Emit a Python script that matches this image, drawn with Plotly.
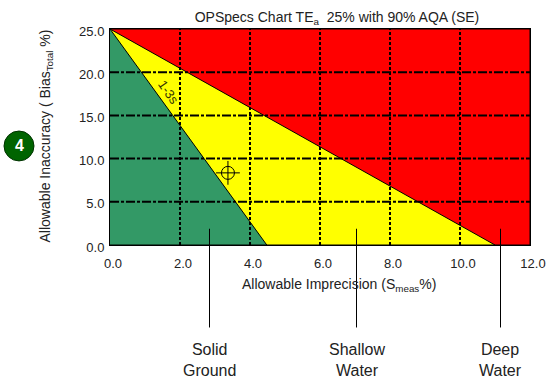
import plotly.graph_objects as go

FONT = "Liberation Sans, Arial, sans-serif"
TEXT = "#222222"

x_ticks = [0, 2, 4, 6, 8, 10, 12]
y_ticks = [0, 5, 10, 15, 20, 25]
tick_fmt = ".1f"

red_x = [0, 12, 12, 0]
red_y = [25, 25, 0, 0]
yellow_x = [0, 11.0, 0]
yellow_y = [25, 0, 0]
green_x = [0, 4.48, 0]
green_y = [25, 0, 0]
point_x = [3.37]
point_y = [8.35]

zone_labels = ["Solid<br>Ground", "Shallow<br>Water", "Deep<br>Water"]
zone_x = [2.843, 7.043, 11.157]

fig = go.Figure()
for xs, ys, col in [(red_x, red_y, "#ff0000"), (yellow_x, yellow_y, "#ffff00"), (green_x, green_y, "#339966")]:
    fig.add_trace(go.Scatter(x=xs, y=ys, mode="lines", fill="toself", fillcolor=col,
                             line=dict(color="black", width=1), showlegend=False, hoverinfo="skip"))
fig.add_trace(go.Scatter(x=point_x, y=point_y, mode="markers", showlegend=False,
                         marker=dict(symbol="circle-open", size=13, color="black",
                                     line=dict(color="black", width=1))))
fig.add_trace(go.Scatter(x=point_x, y=point_y, mode="markers", showlegend=False,
                         marker=dict(symbol="cross-thin-open", size=17, color="black",
                                     line=dict(color="black", width=1))))

grid = dict(showgrid=True, gridcolor="black", gridwidth=2, layer="below traces", zeroline=False,
            showline=True, linecolor="black", linewidth=1, mirror=True, ticks="", automargin=False,
            tickformat=tick_fmt, tickfont=dict(family=FONT, size=13, color=TEXT))

fig.update_layout(
    width=555, height=386, margin=dict(l=110, r=25, t=29, b=141),
    paper_bgcolor="white", plot_bgcolor="white", showlegend=False,
    font=dict(family=FONT, size=13, color=TEXT),
    title=dict(text="OPSpecs Chart TE<sub>a</sub>  25% with 90% AQA (SE)", x=337/555, xanchor="center",
               y=1-17/386, yanchor="middle", font=dict(family=FONT, size=14, color=TEXT)),
    xaxis=dict(range=[0, 12], tickvals=x_ticks, griddash="3px,2px", **grid),
    yaxis=dict(range=[0, 25], tickvals=y_ticks, griddash="9px,2px,3px,2px", **grid),
)
fig.update_xaxes(ticklabelshift=3, ticklabelstandoff=6)
fig.update_yaxes(ticklabelshift=2, ticklabelstandoff=2)

# axis titles
fig.add_annotation(xref="paper", yref="paper", x=(339-110)/420, y=(245.3-285)/216.6, xanchor="center", yanchor="middle",
                   text="Allowable Imprecision (S<sub>meas</sub>%)", showarrow=False,
                   font=dict(family=FONT, size=14, color=TEXT))
fig.add_annotation(xref="paper", yref="paper", x=(46-110)/420, y=(245.3-136.5)/216.6, xanchor="center", yanchor="middle",
                   text="Allowable Inaccuracy ( Bias<sub>Total</sub> %)", showarrow=False, textangle=-90,
                   font=dict(family=FONT, size=14, color=TEXT))

# grid lines over the coloured zones
for v in x_ticks[1:-1]:
    fig.add_shape(type="line", xref="x", yref="paper", x0=v, x1=v, y0=0, y1=1,
                  line=dict(color="black", width=2, dash="3px,2px"))
for v in y_ticks[1:-1]:
    fig.add_shape(type="line", xref="paper", yref="y", x0=0, x1=1, y0=v, y1=v,
                  line=dict(color="black", width=2, dash="9px,2px,3px,2px"))

for lab, xv in zip(zone_labels, zone_x):
    fig.add_shape(type="line", xref="x", yref="paper", x0=xv, x1=xv, y0=(245.3-328)/216.6, y1=(245.3-229)/216.6,
                  line=dict(color="black", width=1), layer="above")
    fig.add_annotation(x=xv, xref="x", yref="paper", y=(245.3-361)/216.6, yanchor="middle", text=lab, showarrow=False,
                       font=dict(family=FONT, size=16, color=TEXT), align="center")

fig.add_annotation(x=1.67, y=17.6, text="1-3s", showarrow=False, textangle=55,
                   font=dict(family=FONT, size=13, color="#333300"))

# numbered badge
fig.add_shape(type="circle", xref="paper", yref="paper",
              x0=(4-110)/420, x1=(34-110)/420, y0=(245.3-161)/216.6, y1=(245.3-131)/216.6,
              fillcolor="#006400", line=dict(color="#003300", width=1))
fig.add_annotation(xref="paper", yref="paper", x=(19-110)/420, y=(245.3-146)/216.6, xanchor="center", yanchor="middle",
                   text="<b>4</b>", showarrow=False, font=dict(family=FONT, size=16, color="white"))

fig.write_html("out.html", config={"displayModeBar": False}, post_script="document.body.style.margin='0';")
